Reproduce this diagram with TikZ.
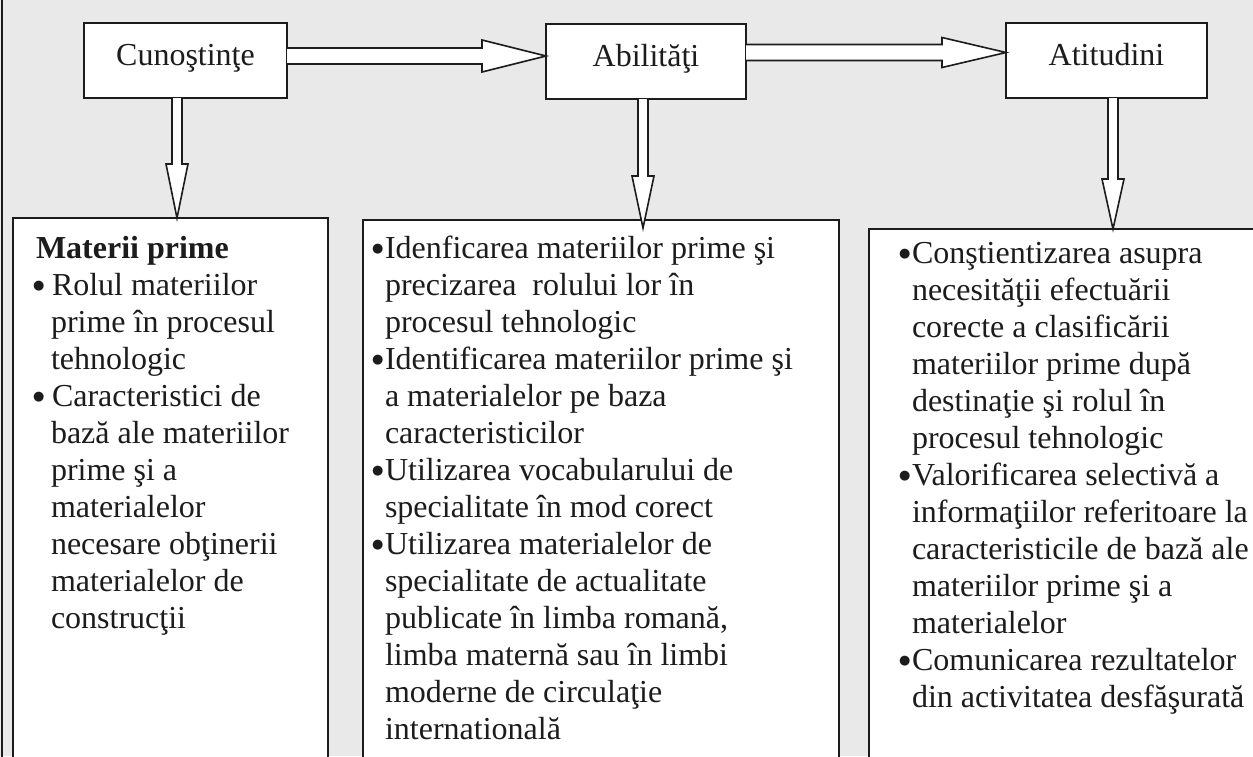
\documentclass[tikz,border=0pt]{standalone}
\usepackage{fontspec}
\setmainfont{Liberation Serif}
\newfontfamily\dvfont{DejaVu Sans}
\usetikzlibrary{calc}
\definecolor{paper}{RGB}{233,233,233}
\definecolor{ink}{RGB}{28,28,28}
\newcommand\mybul{\raisebox{6pt}{\dvfont\fontsize{13}{13}\selectfont ●}}
\newcommand\bulA{\makebox[18pt][l]{\hspace*{-1pt}\mybul}}
\newcommand\indA{\hspace*{17pt}}
\newcommand\bulB{\makebox[12pt][l]{\hspace*{-1pt}\mybul}}
\newcommand\indB{\hspace*{12pt}}
\begin{document}
\begin{tikzpicture}[x=1pt,y=-1pt,
  topbox/.style={draw=ink, fill=white, line width=1.6pt, outer sep=0pt, inner sep=0pt,
    minimum height=75pt, text height=27pt, text depth=18pt,
    font=\fontsize{32}{37}\selectfont, text=ink},
  botbox/.style={draw=ink, fill=white, line width=1.6pt, outer sep=0pt, inner sep=0pt,
    anchor=north west, minimum height=600pt},
  blk/.style={draw=ink, fill=white, line width=1.6pt, line join=miter},
  txt/.style={anchor=base west, inner sep=0pt, outer sep=0pt,
    font=\fontsize{32}{37}\selectfont, text=ink},
  frame/.style={draw=ink, line width=1.6pt}]
\useasboundingbox (0,0) rectangle (1253,756);
\clip (0,0) rectangle (1253,756);
\fill[paper] (0,0) rectangle (1253,756);
\draw[frame] (2,-5) -- (2,761);

% top boxes
\node[topbox, minimum width=203pt] (c) at (185.5,60.5) {Cunoştinţe};
\node[topbox, minimum width=200pt] (a) at (646,61.5) {Abilităţi};
\node[topbox, minimum width=201pt] (t) at (1106.5,60.5) {Atitudini};

% bottom boxes
\node[botbox, minimum width=315pt] (b1) at (13,218) {};
\node[botbox, minimum width=476pt] (b2) at (363,220) {};
\node[botbox, minimum width=400pt] (b3) at (869,229) {};

% horizontal block arrows
\coordinate (h1a) at ($(c.north east)+(0,33)$);
\coordinate (h1b) at ($(a.north west)+(0,32)$);
\draw[blk] ($(h1a)+(0,-8)$) -- ($(h1b)+(-64,-8)$) -- ($(h1b)+(-64,-16)$) -- (h1b)
  -- ($(h1b)+(-64,16)$) -- ($(h1b)+(-64,8)$) -- ($(h1a)+(0,8)$);
\coordinate (h2a) at ($(a.north east)+(0,28.5)$);
\coordinate (h2b) at ($(t.north west)+(0,29.5)$);
\draw[blk] ($(h2a)+(0,-8)$) -- ($(h2b)+(-64,-8)$) -- ($(h2b)+(-64,-15)$) -- (h2b)
  -- ($(h2b)+(-64,15)$) -- ($(h2b)+(-64,8)$) -- ($(h2a)+(0,8)$);

% vertical block arrows
\coordinate (v1a) at ($(c.south)+(-8.5,0)$);
\coordinate (v1b) at (v1a |- b1.north);
\draw[blk] ($(v1a)+(-5,0)$) -- ($(v1b)+(-5,-54)$) -- ($(v1b)+(-11,-54)$) -- (v1b)
  -- ($(v1b)+(11,-54)$) -- ($(v1b)+(5,-54)$) -- ($(v1a)+(5,0)$);
\coordinate (v2a) at ($(a.south)+(-3,0)$);
\coordinate (v2b) at ($(v2a |- b2.north)+(0,8)$);
\draw[blk] ($(v2a)+(-5,0)$) -- ($(v2b)+(-5,-52)$) -- ($(v2b)+(-11,-52)$) -- (v2b)
  -- ($(v2b)+(11,-52)$) -- ($(v2b)+(5,-52)$) -- ($(v2a)+(5,0)$);
\coordinate (v3a) at ($(t.south)+(6.5,0)$);
\coordinate (v3b) at (v3a |- b3.north);
\draw[blk] ($(v3a)+(-5,0)$) -- ($(v3b)+(-5,-50)$) -- ($(v3b)+(-11,-50)$) -- (v3b)
  -- ($(v3b)+(11,-50)$) -- ($(v3b)+(5,-50)$) -- ($(v3a)+(5,0)$);

% texts
\node[txt] (x1) at (34,258) {\begin{tabular}[t]{@{}l@{}}
\hspace*{2pt}\textbf{Materii prime}\\
\bulA Rolul materiilor\\
\indA prime în procesul\\
\indA tehnologic\\
\bulA Caracteristici de\\
\indA bază ale materiilor\\
\indA prime şi a\\
\indA materialelor\\
\indA necesare obţinerii\\
\indA materialelor de\\
\indA construcţii
\end{tabular}};

\node[txt] (x2) at (373,258) {\begin{tabular}[t]{@{}l@{}}
\bulB Idenficarea materiilor prime şi\\
\indB precizarea\ \ rolului lor în\\
\indB procesul tehnologic\\
\bulB Identificarea materiilor prime şi\\
\indB a materialelor pe baza\\
\indB caracteristicilor\\
\bulB Utilizarea vocabularului de\\
\indB specialitate în mod corect\\
\bulB Utilizarea materialelor de\\
\indB specialitate de actualitate\\
\indB publicate în limba romană,\\
\indB limba maternă sau în limbi\\
\indB moderne de circulaţie\\
\indB internatională
\end{tabular}};

\node[txt] (x3) at (900,263) {\begin{tabular}[t]{@{}l@{}}
\bulB Conştientizarea asupra\\
\indB necesităţii efectuării\\
\indB corecte a clasificării\\
\indB materiilor prime după\\
\indB destinaţie şi rolul în\\
\indB procesul tehnologic\\
\bulB Valorificarea selectivă a\\
\indB informaţiilor referitoare la\\
\indB caracteristicile de bază ale\\
\indB materiilor prime şi a\\
\indB materialelor\\
\bulB Comunicarea rezultatelor\\
\indB din activitatea desfăşurată
\end{tabular}};
\end{tikzpicture}
\end{document}
